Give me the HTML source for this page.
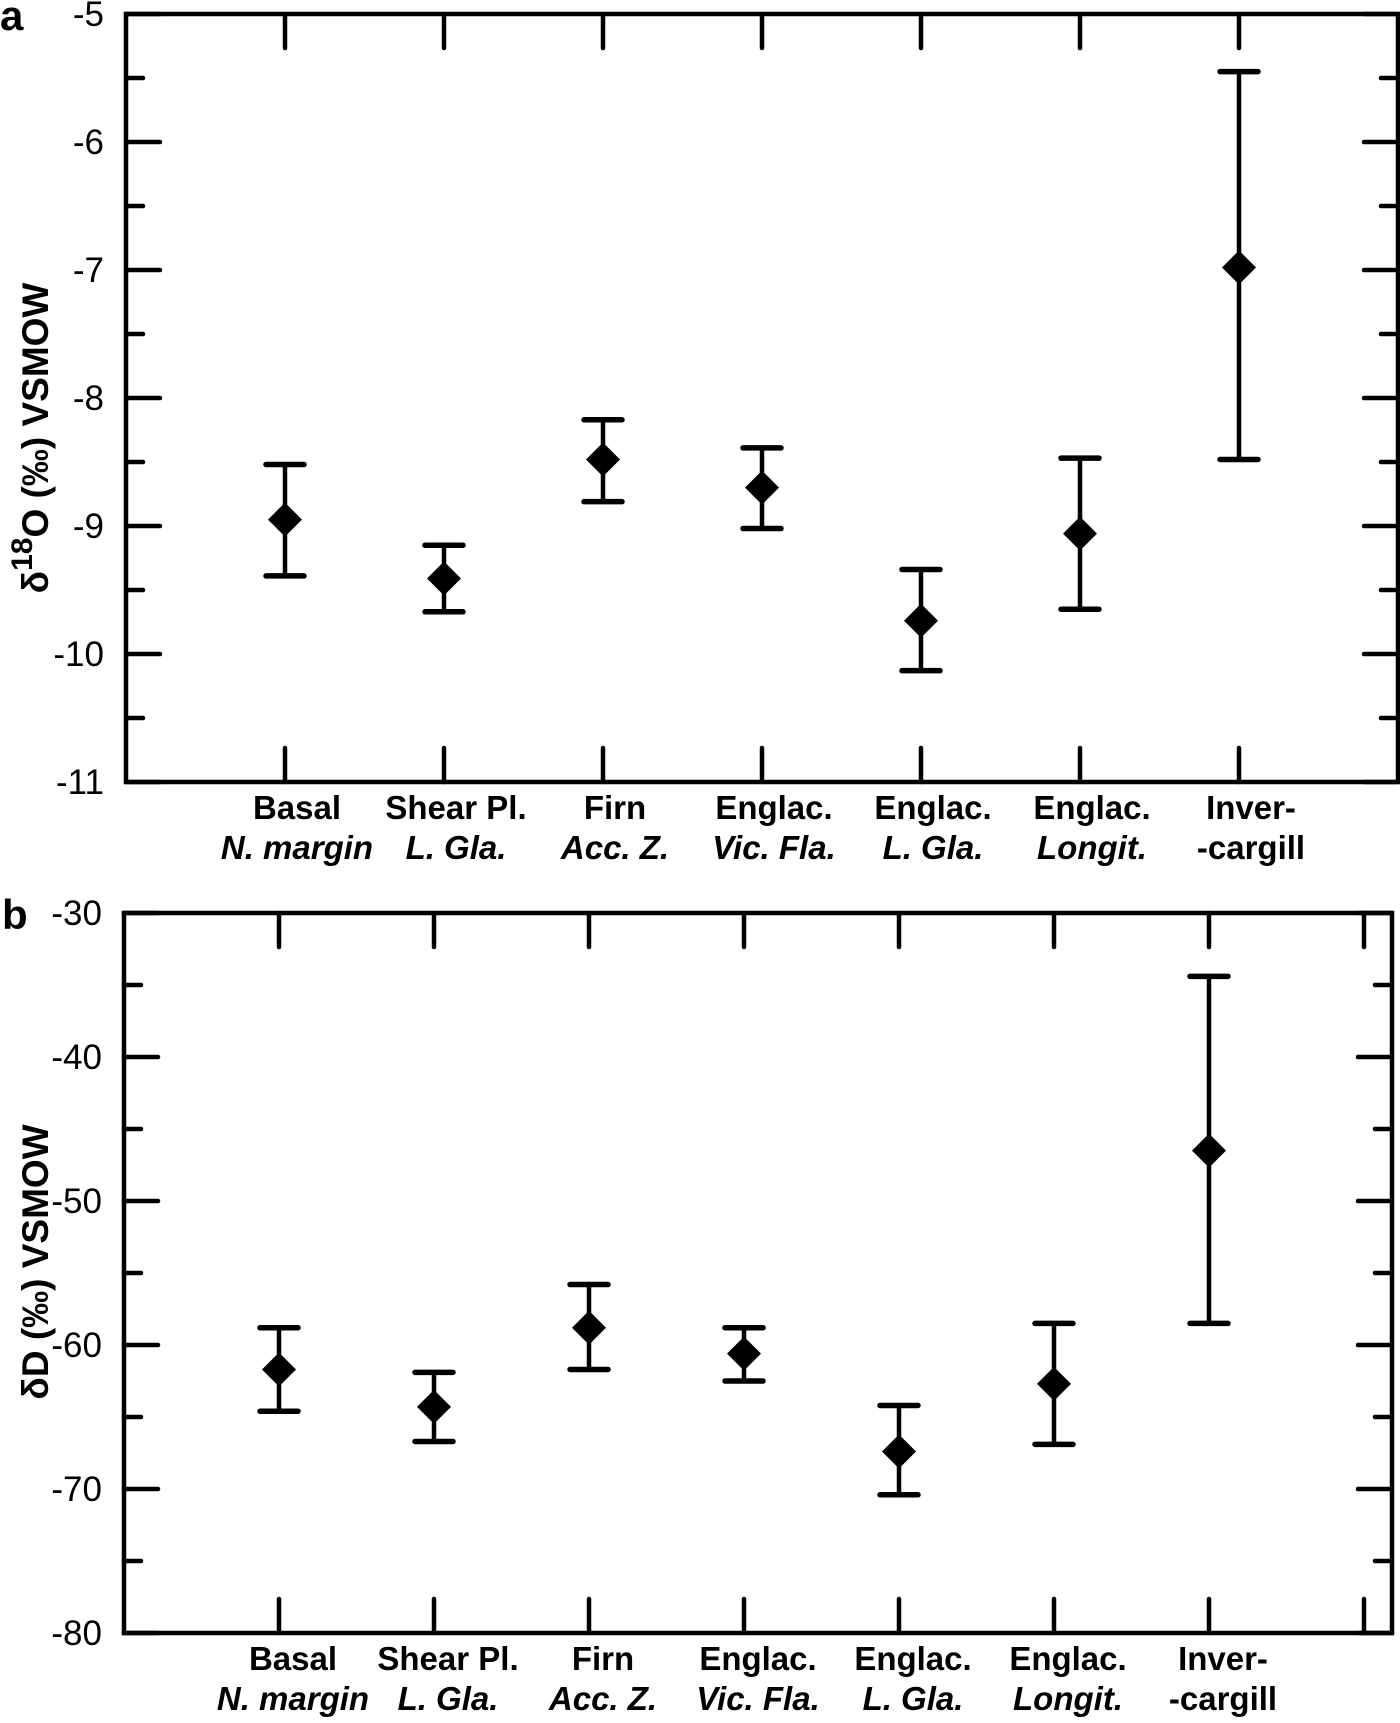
<!DOCTYPE html>
<html><head><meta charset="utf-8"><style>
html,body{margin:0;padding:0;background:#fff}
svg{display:block;font-family:"Liberation Sans",Arial,sans-serif}
</style></head><body>
<svg id="chart" width="1400" height="1723" viewBox="0 0 1400 1723" xmlns="http://www.w3.org/2000/svg"></svg>
<script>
const categoriesTop = ["Basal","Shear Pl.","Firn","Englac.","Englac.","Englac.","Inver-"];
const categoriesSub = ["N. margin","L. Gla.","Acc. Z.","Vic. Fla.","L. Gla.","Longit.","-cargill"];
const subItalic = [true,true,true,true,true,true,false];
const o18Mean = [-8.95,-9.41,-8.48,-8.70,-9.74,-9.06,-6.98];
const o18High = [-8.52,-9.15,-8.17,-8.39,-9.34,-8.47,-5.45];
const o18Low  = [-9.39,-9.67,-8.81,-9.02,-10.13,-9.65,-8.48];
const dMean = [-61.7,-64.3,-58.8,-60.6,-67.4,-62.7,-46.5];
const dHigh = [-58.8,-61.9,-55.8,-58.8,-64.2,-58.5,-34.4];
const dLow  = [-64.6,-66.7,-61.7,-62.5,-70.4,-66.9,-58.5];
const o18Ticks = [-5,-6,-7,-8,-9,-10,-11];
const dTicks = [-30,-40,-50,-60,-70,-80];

const NS="http://www.w3.org/2000/svg";
const svg=document.getElementById('chart');
function el(tag,attrs,parent){const e=document.createElementNS(NS,tag);for(const k in attrs)e.setAttribute(k,attrs[k]);(parent||svg).appendChild(e);return e;}

function panel(cfg){
  const g=el('g',{});
  
  
  const {L,T,R,B,ymax,ymin,step,minor,mean,hi,lo,ticks,lblOff}=cfg;
  const y=v=>T+(ymax-v)/(ymax-ymin)*(B-T);
  const x=i=>L+cfg.dx*(i+1);
  const frame=el('rect',{x:L,y:T,width:R-L,height:B-T,fill:'none',stroke:'#000','stroke-width':4.5},g);
  
  
  for(let v=ymax;v>=ymin-1e-9;v-=minor){
    const isMaj=Math.abs(Math.round(v/step)*step-v)<1e-6;
    const len=isMaj?34:17;
    el('line',{x1:L,y1:y(v),x2:L+len,y2:y(v),stroke:'#000','stroke-width':4.5,'stroke-linecap':'round'},g);
    el('line',{x1:R,y1:y(v),x2:R-len,y2:y(v),stroke:'#000','stroke-width':4.5,'stroke-linecap':'round'},g);
  }
  ticks.forEach(v=>{
    const t=el('text',{x:L-22,y:y(v)+12,'text-anchor':'end','font-size':35},g);
    t.textContent=v;
    
    
  });
  for(let i=0;i<8;i++){
    const xx=x(i);
    if(xx<R-6){
      el('line',{x1:xx,y1:T,x2:xx,y2:T+34,stroke:'#000','stroke-width':4.5,'stroke-linecap':'round'},g);
      el('line',{x1:xx,y1:B,x2:xx,y2:B-34,stroke:'#000','stroke-width':4.5,'stroke-linecap':'round'},g);
    }
  }
  categoriesTop.forEach((c,i)=>{
    const t=el('text',{x:x(i)+lblOff,y:B+37,'text-anchor':'middle','font-size':33,'font-weight':'bold'},g);
    t.textContent=c;
    
    
    const s=el('text',{x:x(i)+lblOff,y:B+77,'text-anchor':'middle','font-size':33,'font-weight':'bold','font-style':subItalic[i]?'italic':'normal'},g);
    s.textContent=categoriesSub[i];
    
    
  });
  mean.forEach((m,i)=>{
    const xx=x(i);
    const eb=el('g',{},g);
    
    
    el('line',{x1:xx,y1:y(hi[i]),x2:xx,y2:y(lo[i]),stroke:'#000','stroke-width':4.5},eb);
    el('line',{x1:xx-19,y1:y(hi[i]),x2:xx+19,y2:y(hi[i]),stroke:'#000','stroke-width':5.5,'stroke-linecap':'round'},eb);
    el('line',{x1:xx-19,y1:y(lo[i]),x2:xx+19,y2:y(lo[i]),stroke:'#000','stroke-width':5.5,'stroke-linecap':'round'},eb);
    const yy=y(m);
    const d=el('polygon',{points:`${xx},${yy-17} ${xx+17},${yy} ${xx},${yy+17} ${xx-17},${yy}`,fill:'#000'},g);
    
    
  });
  const pl=el('text',{x:cfg.letterX,y:T+16,'font-size':42,'font-weight':'bold'},g);
  pl.textContent=cfg.letter;
  
  
  return y;
}

panel({name:'panel-a-d18o',L:126,T:14,R:1398,B:782,ymax:-5,ymin:-11,step:1,minor:0.5,mean:o18Mean,hi:o18High,lo:o18Low,ticks:o18Ticks,dx:159,lblOff:12,letter:'a',letterX:0});
panel({name:'panel-b-dd',L:124,T:913,R:1392,B:1633,ymax:-30,ymin:-80,step:10,minor:5,mean:dMean,hi:dHigh,lo:dLow,ticks:dTicks,dx:155,lblOff:14,letter:'b',letterX:2});

const ya=el('text',{transform:'translate(48,438) rotate(-90)','text-anchor':'middle','font-size':37,'font-weight':'bold'});
ya.innerHTML='δ<tspan baseline-shift="super" font-size="30">18</tspan>O (‰) VSMOW';


const yb=el('text',{transform:'translate(48,1262) rotate(-90)','text-anchor':'middle','font-size':37,'font-weight':'bold'});
yb.textContent='δD (‰) VSMOW';


</script>
</body></html>
